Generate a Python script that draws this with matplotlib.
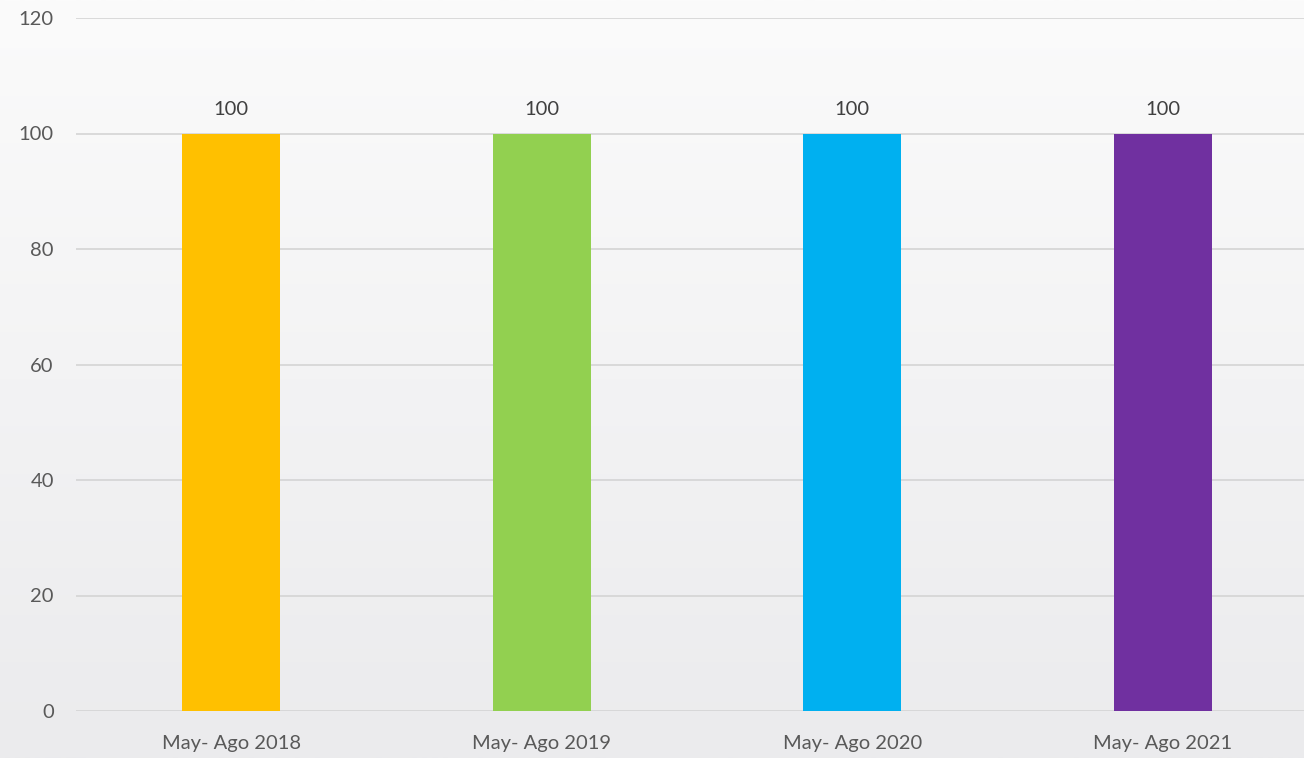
import numpy as np
import matplotlib.pyplot as plt

categories = ["May- Ago 2018", "May- Ago 2019", "May- Ago 2020", "May- Ago 2021"]
values = [100, 100, 100, 100]
colors = ["#FFC000", "#92D050", "#00B0F0", "#7030A0"]

plt.rcParams['font.family'] = ['Lato', 'DejaVu Sans']

fig = plt.figure(figsize=(13.04, 7.58), dpi=100)

# soft background, white at top fading to light gray
bg = fig.add_axes([0, 0, 1, 1], zorder=-1)
grad = np.linspace(0, 1, 256).reshape(-1, 1)
bg.imshow(grad, aspect="auto", cmap=plt.matplotlib.colors.LinearSegmentedColormap.from_list(
    "bg", ["#fbfbfb", "#ebebed"]), extent=[0, 1, 0, 1], origin="upper")
bg.axis("off")

W, H = 1304, 758
left, right, top, bottom = 76, 1304, 18, 711
ax = fig.add_axes([left / W, 1 - bottom / H, (right - left) / W, (bottom - top) / H])
ax.patch.set_alpha(0)

x = np.arange(len(categories))
step = 310.5
ax.bar(x, values, width=98 / step, color=colors, zorder=3)
ax.set_xlim(-0.5, -0.5 + (right - left) / step)
ax.set_ylim(0, 120)
ax.set_yticks(range(0, 121, 20))
ax.set_xticks(x)
ax.set_xticklabels(categories)

for xi, v in zip(x, values):
    ax.text(xi, v + 2.6, f"{v}", ha="center", va="bottom", fontsize=14.5, color="#404040")

ax.grid(axis="y", color="#d4d4d4", linewidth=1.2, zorder=0)
for s in ax.spines.values():
    s.set_visible(False)
ax.tick_params(length=0, labelsize=14.5, colors="#595959")
ax.tick_params(axis="y", pad=16)
ax.tick_params(axis="x", pad=17)

fig.savefig("out.png", dpi=100)
